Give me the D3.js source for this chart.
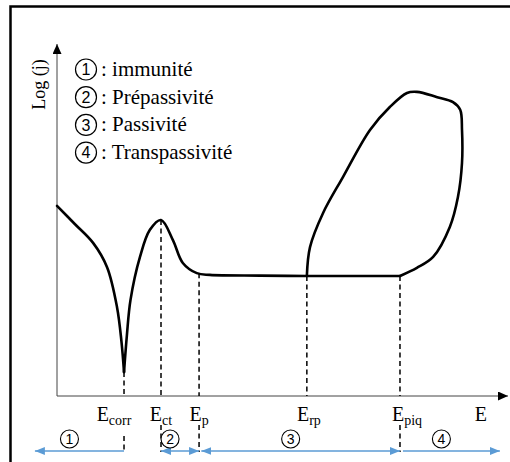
<!DOCTYPE html>
<html>
<head>
<meta charset="utf-8">
<script src="https://cdn.jsdelivr.net/npm/d3@7"></script>
<style>
  html, body { margin: 0; padding: 0; background: #fff; }
  svg { display: block; }
  .serif { font-family: "Liberation Serif", "Times New Roman", "DejaVu Serif", serif; }
  .sans { font-family: "Liberation Sans", Arial, sans-serif; }
</style>
</head>
<body>
<div id="chart"></div>
<script>
// --- data (E in arbitrary units 0..100, log(j) in arbitrary units 0..100)
const branchCathodic = [
  [0, 54.0], [4.0, 48.8], [8.0, 43.5], [11.1, 36.6], [13.3, 25.3], [14.3, 15.4], [14.86, 6.8]
];
const branchAnodic = [
  [14.86, 6.8], [15.5, 17.3], [16.3, 27.3], [18.4, 39.5], [20.6, 47.2], [23.06, 50.0],
  [25.7, 44.3], [27.9, 37.8], [31.0, 34.9], [33.9, 34.4], [45.0, 34.2], [55.4, 34.1],
  [66.0, 34.1], [76.05, 34.1]
];
const loopTranspassive = [
  [76.05, 34.1], [79.8, 36.4], [83.4, 39.5], [87.1, 48.0], [88.9, 56.5], [89.8, 66.2],
  [89.8, 75.6], [89.4, 81.3], [87.8, 83.5], [84.3, 84.9], [79.8, 86.4], [77.6, 86.1],
  [73.8, 82.1], [69.4, 75.6], [63.4, 62.2], [59.0, 52.0], [56.1, 42.3], [55.4, 34.1]
];

// characteristic potentials: name, subscript, E, log(j) on curve
const potNames = ["E", "E", "E", "E", "E"];
const potSubs = ["corr", "ct", "p", "rp", "piq"];
const potE = [14.86, 23.06, 31.5, 55.4, 76.05];
const potJ = [6.8, 50.0, 34.9, 34.1, 34.1];

const legendLabels = ["immunité", "Prépassivité", "Passivité", "Transpassivité"];
const regionNums = ["1", "2", "3", "4"];
// region arrows along E: from, to, arrowheads
const regionFrom = [14.86, 23.06, 32.0, 76.7];
const regionTo = [-4.9, 31.5, 76.05, 98.2];
const regionHeads = [["end"], ["start", "end"], ["start", "end"], ["end"]];

const yLabel = "Log (j)";
const xLabel = "E";

// --- drawing
const W = 510, H = 462;
const blue = "#5b9bd5";

const svg = d3.select("#chart").append("svg")
  .attr("width", W).attr("height", H);

const x = d3.scaleLinear().domain([0, 100]).range([57, 508]);
const y = d3.scaleLinear().domain([0, 100]).range([396, 44]);

const defs = svg.append("defs");
function marker(id, color, w, h, orientStart){
  defs.append("marker")
    .attr("id", id)
    .attr("viewBox", `0 0 ${w} ${h}`)
    .attr("refX", w).attr("refY", h/2)
    .attr("markerWidth", w).attr("markerHeight", h)
    .attr("markerUnits", "userSpaceOnUse")
    .attr("orient", orientStart ? "auto-start-reverse" : "auto")
    .append("path")
      .attr("d", `M0,0L${w},${h/2}L0,${h}Z`)
      .attr("fill", color);
}
marker("axArrow", "#000", 10, 9, false);
marker("blueEnd", blue, 10, 8, false);
marker("blueStart", blue, 10, 8, true);

// outer frame
svg.append("rect")
  .attr("x", 10.5).attr("y", 6.5)
  .attr("width", W + 20).attr("height", H + 20)
  .attr("fill", "none").attr("stroke", "#000").attr("stroke-width", 2.5);

// axes
svg.append("line")
  .attr("x1", x(0)).attr("y1", y(0))
  .attr("x2", x(0)).attr("y2", y(100))
  .attr("stroke", "#444").attr("stroke-width", 1)
  .attr("marker-end", "url(#axArrow)");
svg.append("line")
  .attr("x1", x(0)).attr("y1", y(0))
  .attr("x2", x(100)).attr("y2", y(0))
  .attr("stroke", "#444").attr("stroke-width", 1)
  .attr("marker-end", "url(#axArrow)");

svg.append("text")
  .attr("class", "serif")
  .attr("transform", `translate(${x(0) - 12},${y(88.5)}) rotate(-90)`)
  .attr("text-anchor", "middle")
  .attr("font-size", 18)
  .text(yLabel);

// dashed guide lines
const dash = svg.append("g")
  .attr("stroke", "#000").attr("stroke-width", 1.5)
  .attr("stroke-dasharray", "5,3.5");
potE.forEach((e, i) => {
  dash.append("line")
    .attr("x1", x(e)).attr("x2", x(e))
    .attr("y1", y(potJ[i])).attr("y2", y(0));
  if(i !== 3){
    dash.append("line")
      .attr("x1", x(e)).attr("x2", x(e))
      .attr("y1", y(0) + (i === 0 ? 40 : 29)).attr("y2", y(0) + 56);
  }
});

// curve
const line = d3.line()
  .x(d => x(d[0])).y(d => y(d[1]))
  .curve(d3.curveCatmullRom.alpha(0.5));
[branchCathodic, branchAnodic, loopTranspassive].forEach(s => {
  svg.append("path")
    .attr("d", line(s))
    .attr("fill", "none")
    .attr("stroke", "#000").attr("stroke-width", 2.6)
    .attr("stroke-linejoin", "round").attr("stroke-linecap", "round");
});

// potential labels
const labelOffsets = [-10, 0, 0, 2, 7];
potE.forEach((e, i) => {
  const t = svg.append("text")
    .attr("class", "serif")
    .attr("x", x(e) + labelOffsets[i]).attr("y", y(0) + 25)
    .attr("text-anchor", "middle")
    .attr("font-size", 20);
  t.append("tspan").text(potNames[i]);
  t.append("tspan").attr("dy", 4).attr("font-size", 14).text(potSubs[i]);
});
svg.append("text")
  .attr("class", "serif")
  .attr("x", x(94)).attr("y", y(0) + 25)
  .attr("text-anchor", "middle")
  .attr("font-size", 20)
  .text(xLabel);

// region arrows and numbers
const ay = y(0) + 55;
regionFrom.forEach((f, i) => {
  const l = svg.append("line")
    .attr("x1", x(f)).attr("x2", x(regionTo[i]))
    .attr("y1", ay).attr("y2", ay)
    .attr("stroke", blue).attr("stroke-width", 1.5);
  if(regionHeads[i].includes("end")) l.attr("marker-end", "url(#blueEnd)");
  if(regionHeads[i].includes("start")) l.attr("marker-start", "url(#blueStart)");
  const cx = (x(f) + x(regionTo[i])) / 2 - 10;
  const g = svg.append("g").attr("transform", `translate(${cx},${ay - 12})`);
  g.append("circle").attr("r", 9)
    .attr("fill", "#fff").attr("stroke", "#000").attr("stroke-width", 1.1);
  g.append("text")
    .attr("class", "sans")
    .attr("text-anchor", "middle").attr("dy", "0.36em")
    .attr("font-size", 14)
    .text(regionNums[i]);
});

// legend
const legend = svg.append("g").attr("transform", "translate(86,0)");
legendLabels.forEach((lab, i) => {
  const by = 76 + i * 27.7;
  legend.append("circle")
    .attr("cx", 0).attr("cy", by - 6.5).attr("r", 10.5)
    .attr("fill", "none").attr("stroke", "#000").attr("stroke-width", 1.2);
  legend.append("text")
    .attr("class", "sans")
    .attr("x", 0).attr("y", by - 6.5).attr("dy", "0.36em")
    .attr("text-anchor", "middle")
    .attr("font-size", 16)
    .text(regionNums[i]);
  legend.append("text")
    .attr("class", "serif")
    .attr("x", 15).attr("y", by)
    .attr("font-size", 21)
    .text(": " + lab);
});
</script>
</body>
</html>
